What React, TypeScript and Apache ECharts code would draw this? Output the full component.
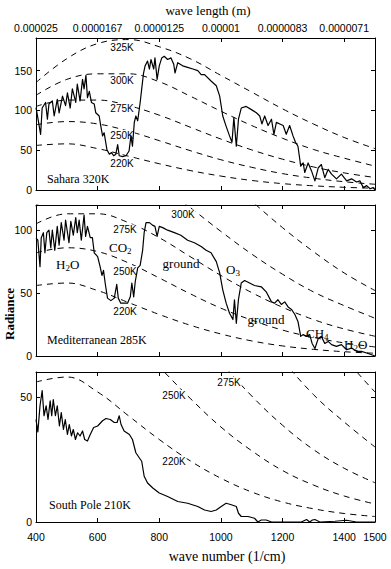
import React, { useEffect, useRef } from 'react';
import * as echarts from 'echarts';

// ---------- data ----------
const WAVENUMBER_GRID = [400, 500, 600, 700, 800, 900, 1000, 1100, 1200, 1300, 1400, 1500];
const BB_325K = [135, 165, 184, 189, 180, 165, 144, 123, 102, 83, 66, 52];
const BB_300K = [119, 139, 146, 146, 136, 118, 99, 81, 65, 51, 40, 30];
const BB_275K = [105, 113, 113, 106, 94, 79, 64, 50.4, 38.7, 29, 21.5, 15.7];
const BB_250K = [82, 86, 83, 74, 62, 49.5, 38, 28.5, 20.6, 14.8, 10.4, 7.2];
const BB_220K = [56, 58, 52, 42.5, 33, 24.5, 17.5, 12, 8, 5.3, 3.4, 2.2];
const BB_CURVES = [BB_325K, BB_300K, BB_275K, BB_250K, BB_220K];

const SAHARA: [number, number][] = [
  [400, 103.5], [404, 95], [415, 70], [420, 103], [431, 110], [437, 89], [442, 108], [453, 112], [459, 93],
  [469, 114], [475, 97], [486, 118], [496, 106], [502, 122], [511, 103], [518, 127], [529, 110], [534, 133],
  [543, 112], [551, 139], [556, 127], [562, 144], [567, 116], [573, 124], [580, 110], [589, 108], [594, 97],
  [605, 93], [610, 81], [616, 68], [621, 72], [630, 51], [638, 45], [645, 47], [652, 43], [659, 45], [665, 57],
  [670, 43], [681, 42], [692, 43], [702, 49], [708, 68], [713, 55], [719, 85], [724, 93], [730, 87], [738, 110],
  [743, 127], [749, 147], [754, 156], [762, 162], [768, 152], [773, 164], [782, 152], [786, 166], [793, 139],
  [800, 156], [808, 166], [816, 168], [827, 164], [838, 166], [847, 158], [851, 147], [860, 160], [876, 156],
  [892, 154], [909, 152], [925, 150], [936, 145], [947, 145], [968, 137], [985, 131], [996, 118], [1006, 93],
  [1017, 80], [1028, 68], [1036, 60], [1042, 91], [1050, 55], [1057, 89], [1066, 103], [1082, 105], [1099, 101],
  [1115, 97], [1126, 93], [1133, 83], [1142, 93], [1153, 81], [1164, 89], [1172, 70], [1180, 85], [1191, 83],
  [1202, 81], [1212, 70], [1223, 81], [1234, 68], [1242, 60], [1250, 55], [1259, 30], [1267, 34], [1272, 22],
  [1283, 34], [1294, 24], [1305, 11.5], [1316, 28], [1326, 32], [1337, 15.5], [1348, 26], [1359, 20], [1375, 14],
  [1391, 20], [1408, 11.5], [1424, 14], [1440, 10], [1451, 11.5], [1462, 3], [1473, 5.5], [1484, 1.5], [1494, 3],
  [1500, 0],
];

const MEDITERRANEAN: [number, number][] = [
  [400, 93.7], [406, 92], [413, 71], [417, 94], [424, 98], [429, 82], [435, 98], [442, 100], [448, 86], [453, 100],
  [461, 84], [469, 103], [475, 88], [482, 106], [491, 92], [496, 108], [507, 90], [513, 107], [521, 96], [529, 110],
  [534, 98], [540, 108], [547, 92], [556, 112], [561, 95], [567, 103], [576, 94], [583, 94], [589, 82], [600, 79],
  [608, 71], [614, 64], [619, 68], [625, 57], [632, 46], [643, 44], [654, 46], [662, 57], [667, 46], [675, 42],
  [686, 42], [697, 42], [706, 47], [711, 58], [717, 47], [722, 59], [730, 70], [738, 72], [746, 84], [751, 98],
  [757, 106], [768, 106], [778, 104], [786, 103], [793, 95], [800, 103], [811, 102], [827, 100], [849, 98],
  [870, 96], [892, 92], [914, 90], [936, 87], [952, 84], [968, 82], [985, 75], [996, 66], [1006, 52.6], [1017, 42],
  [1028, 34], [1039, 29], [1044, 44.7], [1050, 26], [1057, 45], [1066, 58], [1077, 60], [1093, 58], [1109, 56],
  [1131, 55], [1147, 51], [1164, 43], [1174, 42], [1185, 44.7], [1196, 41], [1207, 43], [1218, 39], [1229, 37],
  [1240, 33], [1250, 27.5], [1259, 15.6], [1267, 17], [1277, 15.6], [1288, 17], [1296, 10], [1305, 6], [1316, 14],
  [1326, 15.6], [1337, 10], [1348, 11.6], [1359, 9], [1375, 7.7], [1391, 9], [1408, 5], [1424, 6.3], [1440, 3.7],
  [1456, 3.7], [1473, 2.4], [1489, 1], [1500, 0],
];

const SOUTH_POLE: [number, number][] = [
  [400, 41], [406, 36], [413, 46.5], [420, 52.6], [426, 42.5], [433, 46.5], [439, 41], [446, 48.5], [451, 42.5],
  [456, 49], [463, 42.5], [469, 46.5], [476, 38.4], [482, 43.8], [489, 37], [495, 41], [502, 35], [508, 39],
  [515, 34.4], [521, 37], [528, 33], [535, 35.7], [543, 34.4], [551, 36.4], [558, 33], [567, 32.4], [576, 35],
  [587, 37.8], [600, 38.4], [616, 40.5], [627, 41.4], [641, 41], [654, 39.8], [663, 39.8], [670, 42.5], [676, 39],
  [686, 36.4], [703, 35], [713, 33], [724, 27.7], [735, 25.7], [743, 24.3], [751, 18.3], [762, 15.6], [779, 13.6],
  [800, 11.6], [827, 10.2], [860, 8.2], [892, 7.5], [925, 6.2], [947, 4.8], [968, 4.2], [985, 4.8], [1001, 6.2],
  [1017, 7.5], [1034, 6.9], [1050, 6.2], [1057, 3.5], [1066, 2.2], [1088, 2.2], [1109, 1.5], [1120, 0], [1131, 0.8],
  [1147, 0.8], [1164, 0], [1218, 0], [1261, 0], [1278, 1], [1288, 0], [1297, 0.8], [1305, 1], [1321, 0], [1370, 0.3],
  [1408, 0.7], [1440, 0], [1500, 0],
];

const SPECTRA = [SAHARA, MEDITERRANEAN, SOUTH_POLE];
const PANEL_NAMES = ['Sahara 320K', 'Mediterranean 285K', 'South Pole 210K'];
const Y_MAX = [191, 120, 60];
const Y_TICKS = [0, 50, 100, 150];
const BOTTOM_TICKS = [400, 600, 800, 1000, 1200, 1400, 1500];
const TOP_TICK_NU = [400, 600, 800, 1000, 1200, 1400];
const TOP_TICK_LABELS = ['0.000025', '0.0000167', '0.0000125', '0.00001', '0.0000083', '0.0000071'];

// ---------- layout ----------
const GRID_LEFT = 36;
const GRID_WIDTH = 339;
const PANEL_TOPS = [38, 205, 372];
const PANEL_HEIGHTS = [152, 151, 150];
const PANEL_NAME_POS = [[47, 179], [47, 340], [49, 505]];

const TEMP_LABEL_POS: { t: string; x: number; y: number }[][] = [
  [
    { t: '325K', x: 122, y: 47.5 },
    { t: '300K', x: 122, y: 80 },
    { t: '275K', x: 122, y: 108 },
    { t: '250K', x: 122, y: 135 },
    { t: '220K', x: 122, y: 163 },
  ],
  [
    { t: '300K', x: 183, y: 214.5 },
    { t: '275K', x: 125, y: 229.5 },
    { t: '250K', x: 125, y: 271 },
    { t: '220K', x: 125, y: 311 },
  ],
  [
    { t: '275K', x: 229, y: 382 },
    { t: '250K', x: 174, y: 395 },
    { t: '220K', x: 174, y: 461 },
  ],
];

const SERIF = 'Liberation Serif';
const SANS = 'Liberation Sans';

function txt(text: string, x: number, y: number, family: string, size: number, align = 'left', extra: any = {}) {
  return {
    type: 'text',
    x,
    y,
    z: 3,
    silent: true,
    style: {
      text,
      fontFamily: family,
      fontSize: size,
      fontWeight: 'normal',
      fill: '#000',
      align,
      verticalAlign: 'middle',
      ...extra,
    },
  };
}

// chemical formula pieces: [text, isSub]
function chem(parts: [string, boolean][], x: number, y: number) {
  const els: any[] = [];
  let cx = x;
  const charW: Record<string, number> = { C: 0.667, O: 0.722, H: 0.722 };
  for (const [p, sub] of parts) {
    if (sub) {
      els.push(txt(p, cx, y + 4, SERIF, 9));
      cx += 4.6;
    } else {
      els.push(txt(p, cx, y, SERIF, 13));
      for (const ch of p) cx += (charW[ch] || 0.6) * 13;
    }
  }
  return els;
}

export default function App() {
  const ref = useRef<HTMLDivElement>(null);

  useEffect(() => {
    if (!ref.current) return;
    const chart = echarts.init(ref.current, undefined, { renderer: 'svg' });

    const grid: any[] = [];
    const xAxis: any[] = [];
    const yAxis: any[] = [];
    const series: any[] = [];
    const axisLine = { show: true, onZero: false, lineStyle: { color: '#000', width: 1 } };
    const axisTick = { show: true, inside: true, length: 4, lineStyle: { color: '#000', width: 1 } };
    const labelFont = { color: '#000', fontFamily: SANS, fontSize: 10.5, fontWeight: 'normal' };

    for (let i = 0; i < 3; i++) {
      grid.push({ left: GRID_LEFT, top: PANEL_TOPS[i], width: GRID_WIDTH, height: PANEL_HEIGHTS[i], containLabel: false });
      xAxis.push({
        type: 'value', gridIndex: i, position: 'bottom', min: 400, max: 1500, interval: 200,
        axisLine, axisTick, splitLine: { show: false },
        axisLabel: i === 2
          ? {
              show: true, ...labelFont, margin: 9, showMaxLabel: true,
              formatter: (v: number) => (BOTTOM_TICKS.includes(v) ? String(v) : ''),
            }
          : { show: false },
      });
      xAxis.push({
        type: 'value', gridIndex: i, position: 'top', min: 400, max: 1500, interval: 200,
        axisLine, axisTick, splitLine: { show: false },
        axisLabel: i === 0
          ? {
              show: true, ...labelFont, margin: 5, showMaxLabel: false,
              formatter: (v: number) => {
                const k = TOP_TICK_NU.indexOf(v);
                return k >= 0 ? TOP_TICK_LABELS[k] : '';
              },
            }
          : { show: false },
      });
      yAxis.push({
        type: 'value', gridIndex: i, position: 'left', min: 0, max: Y_MAX[i], interval: 50,
        axisLine, axisTick, splitLine: { show: false },
        axisLabel: {
          show: true, ...labelFont, margin: 4, showMaxLabel: false,
          formatter: (v: number) => (Y_TICKS.includes(v) ? String(v) : ''),
        },
      });
      yAxis.push({
        type: 'value', gridIndex: i, position: 'right', min: 0, max: Y_MAX[i], interval: 50,
        axisLine, axisTick, splitLine: { show: false }, axisLabel: { show: false },
      });

      BB_CURVES.forEach((curve, c) => {
        series.push({
          type: 'line',
          name: `bb${i}-${c}`,
          xAxisIndex: 2 * i,
          yAxisIndex: 2 * i,
          data: WAVENUMBER_GRID.map((nu, k) => [nu, curve[k]]),
          smooth: 0.4,
          symbol: 'none',
          silent: true,
          clip: true,
          z: 2,
          lineStyle: { color: '#000', width: 1, type: [6, 5] },
        });
      });
      series.push({
        type: 'line',
        name: PANEL_NAMES[i],
        xAxisIndex: 2 * i,
        yAxisIndex: 2 * i,
        data: SPECTRA[i],
        symbol: 'none',
        silent: true,
        clip: true,
        z: 5,
        lineStyle: { color: '#000', width: 1.2, join: 'round' },
      });
    }

    const graphic: any[] = [];
    graphic.push(txt('wave length (m)', 208, 10, SERIF, 13, 'center'));
    graphic.push(txt('wave number (1/cm)', 227, 556, SERIF, 14, 'center'));
    graphic.push({
      type: 'text', x: 9, y: 314, rotation: Math.PI / 2, z: 3, silent: true,
      style: {
        text: 'Radiance', fontFamily: SERIF, fontSize: 13, fontWeight: 'bold', fill: '#000',
        align: 'center', verticalAlign: 'middle',
      },
    });
    PANEL_NAMES.forEach((n, i) => graphic.push(txt(n, PANEL_NAME_POS[i][0], PANEL_NAME_POS[i][1], SERIF, 12)));
    TEMP_LABEL_POS.forEach((list) =>
      list.forEach((l) =>
        graphic.push(txt(l.t, l.x, l.y, SANS, 10, 'center', { backgroundColor: '#fff', padding: [0, 1] }))
      )
    );
    graphic.push(...chem([['H', false], ['2', true], ['O', false]], 56, 264));
    graphic.push(...chem([['CO', false], ['2', true]], 109, 247));
    graphic.push(txt('ground', 181, 263, SERIF, 13, 'center'));
    graphic.push(...chem([['O', false], ['3', true]], 226, 269));
    graphic.push(txt('ground', 266, 319, SERIF, 13, 'center'));
    graphic.push(...chem([['CH', false], ['4', true]], 306, 333));
    graphic.push(...chem([['H', false], ['2', true], ['O', false]], 344, 344));

    chart.setOption({
      animation: false,
      backgroundColor: '#fff',
      grid,
      xAxis,
      yAxis,
      series,
      graphic,
    });

    return () => chart.dispose();
  }, []);

  return (
    <div
      ref={ref}
      style={{ position: 'fixed', left: 0, top: 0, width: 391, height: 569, background: '#fff' }}
    />
  );
}
